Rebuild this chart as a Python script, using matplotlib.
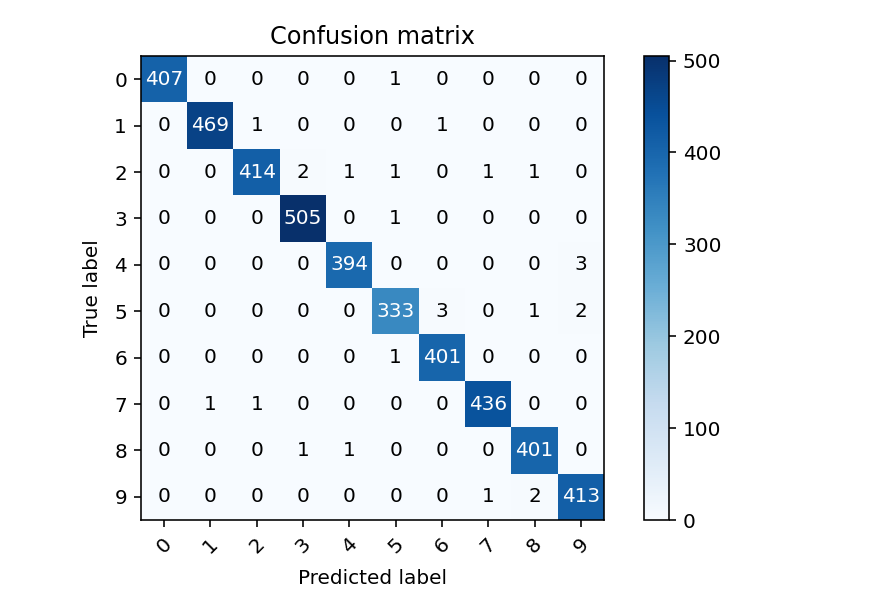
import numpy as np
import matplotlib
matplotlib.use('Agg')
import matplotlib.pyplot as plt

classes = ['0', '1', '2', '3', '4', '5', '6', '7', '8', '9']

row0 = [407, 0, 0, 0, 0, 1, 0, 0, 0, 0]
row1 = [0, 469, 1, 0, 0, 0, 1, 0, 0, 0]
row2 = [0, 0, 414, 2, 1, 1, 0, 1, 1, 0]
row3 = [0, 0, 0, 505, 0, 1, 0, 0, 0, 0]
row4 = [0, 0, 0, 0, 394, 0, 0, 0, 0, 3]
row5 = [0, 0, 0, 0, 0, 333, 3, 0, 1, 2]
row6 = [0, 0, 0, 0, 0, 1, 401, 0, 0, 0]
row7 = [0, 1, 1, 0, 0, 0, 0, 436, 0, 0]
row8 = [0, 0, 0, 1, 1, 0, 0, 0, 401, 0]
row9 = [0, 0, 0, 0, 0, 0, 0, 1, 2, 413]

cm = np.array([row0, row1, row2, row3, row4, row5, row6, row7, row8, row9])

W, H = 890, 606
DPI = 144
fig = plt.figure(figsize=(W / DPI, H / DPI), dpi=DPI)
ax = fig.add_axes([141 / W, 86 / H, 463 / W, 464 / H])
cax = fig.add_axes([644 / W, 86 / H, 25 / W, 464 / H])

im = ax.imshow(cm, interpolation='nearest', cmap=plt.cm.Blues, aspect='auto')
ax.set_title('Confusion matrix')
fig.colorbar(im, cax=cax)

tick_marks = np.arange(len(classes))
ax.set_xticks(tick_marks)
ax.set_xticklabels(classes, rotation=45)
ax.set_yticks(tick_marks)
ax.set_yticklabels(classes)

thresh = cm.max() / 2.
for i in range(cm.shape[0]):
    for j in range(cm.shape[1]):
        ax.text(j, i, format(cm[i, j], 'd'),
                horizontalalignment='center', verticalalignment='center',
                color='white' if cm[i, j] > thresh else 'black')

ax.set_ylabel('True label', labelpad=6)
ax.set_xlabel('Predicted label', labelpad=6)

fig.savefig('out.png', dpi=DPI)
